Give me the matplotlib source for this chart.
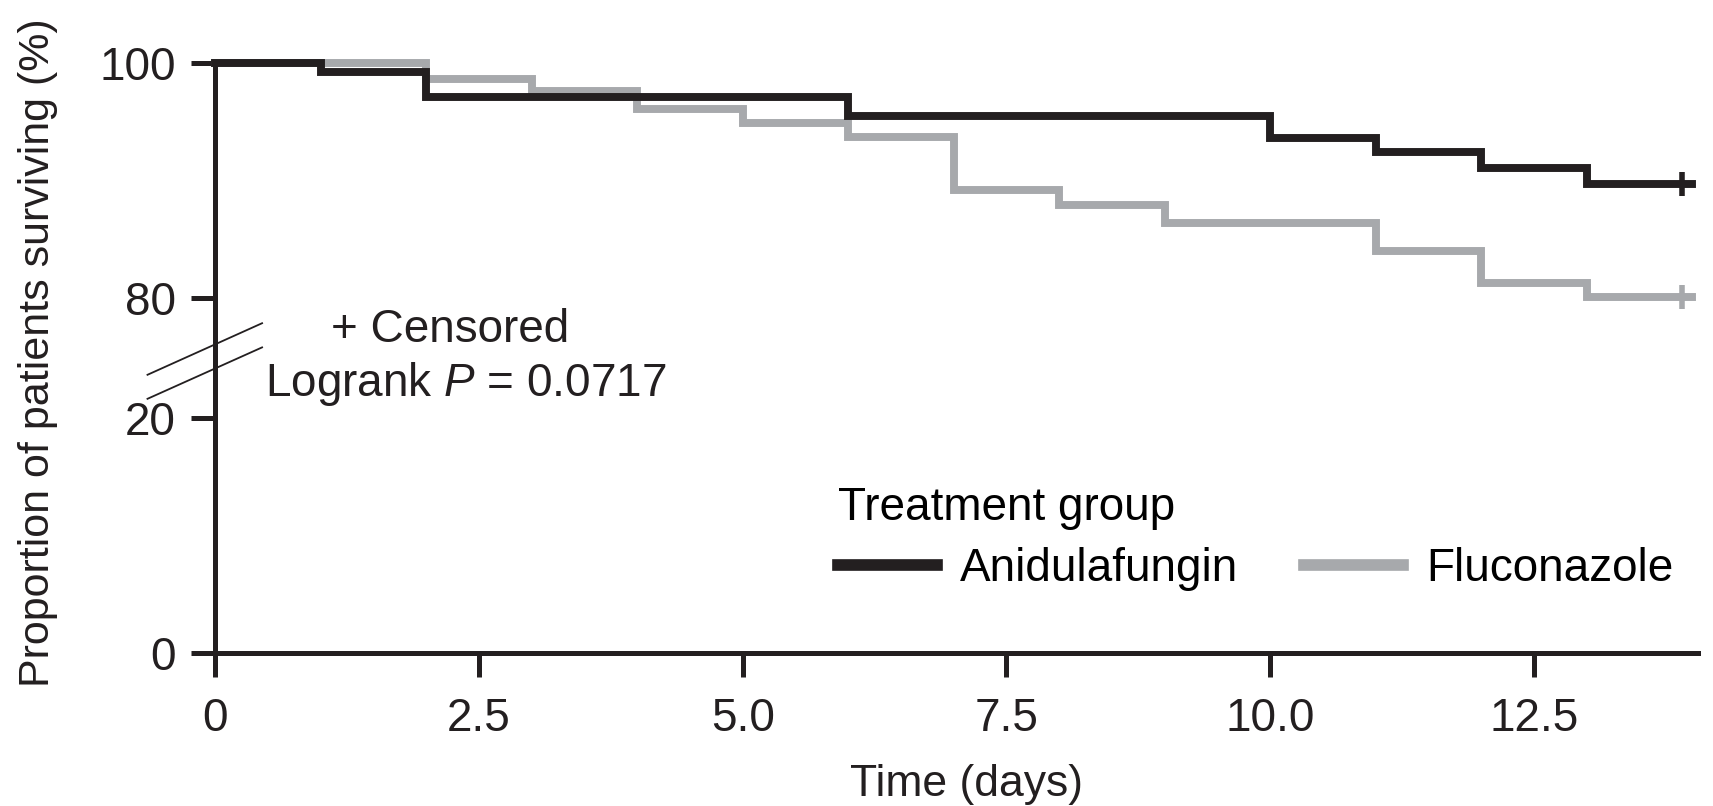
import matplotlib
matplotlib.use("Agg")
from matplotlib import pyplot as plt
from matplotlib.lines import Line2D

plt.rcParams['font.family'] = ['Liberation Sans', 'DejaVu Sans']
plt.rcParams['mathtext.fontset'] = 'custom'
plt.rcParams['mathtext.rm'] = 'Liberation Sans'
plt.rcParams['mathtext.it'] = 'Liberation Sans:italic'

# Kaplan-Meier survival (%), value holds from day i to day i+1
days = [0, 1, 2, 3, 4, 5, 6, 7, 8, 9, 10, 11, 12, 13, 14]
anidulafungin = [100, 99.2, 97.1, 97.1, 97.1, 97.1, 95.5, 95.5, 95.5, 95.5, 93.6, 92.4, 91.1, 89.7, 89.7]
fluconazole = [100, 100, 98.6, 97.6, 96.1, 94.9, 93.7, 89.2, 87.9, 86.4, 86.4, 84.0, 81.3, 80.1, 80.1]
censor_day = 13.9

x_ticks = [0, 2.5, 5.0, 7.5, 10.0, 12.5]
x_tick_labels = ["0", "2.5", "5.0", "7.5", "10.0", "12.5"]
y_ticks = [0, 20, 80, 100]

BLACK = "#231f20"
GREY = "#a7a9ac"
FS = 33

# broken y axis: 20..80 squeezed into a small gap
GAP = 10.23


def yt(v):
    return v if v <= 20 else v - 80 + 20 + GAP


fig = plt.figure(figsize=(17.13, 8.06), dpi=100)
ax = fig.add_axes([0.1255, 0.1898, 0.988 - 0.1255, 0.9218 - 0.1898])

ax.plot(days, [yt(v) for v in fluconazole], drawstyle="steps-post", color=GREY, lw=5.7, clip_on=False,
        solid_joinstyle="miter")
ax.plot(days, [yt(v) for v in anidulafungin], drawstyle="steps-post", color=BLACK, lw=5.7, clip_on=False,
        solid_joinstyle="miter")
ax.plot([censor_day], [yt(fluconazole[-1])], marker="+", ms=17, mew=4, color=GREY, clip_on=False)
ax.plot([censor_day], [yt(anidulafungin[-1])], marker="+", ms=17, mew=4, color=BLACK, clip_on=False)

ax.set_xlim(0, 14)
ax.set_ylim(0, yt(100))
for s in ["top", "right"]:
    ax.spines[s].set_visible(False)
for s in ["left", "bottom"]:
    ax.spines[s].set_linewidth(3.6)
    ax.spines[s].set_color(BLACK)
ax.spines["bottom"].set_bounds(0, 14.05)

ax.set_xticks(x_ticks)
ax.set_xticklabels(x_tick_labels)
ax.set_yticks([yt(v) for v in y_ticks])
ax.set_yticklabels([str(v) for v in y_ticks])
ax.tick_params(axis="both", length=17, width=3.6, color=BLACK, labelsize=FS, labelcolor=BLACK)
ax.tick_params(axis="x", pad=15)
ax.tick_params(axis="y", pad=11)

fig.text(0.022, 0.563, "Proportion of patients surviving (%)", rotation=90, ha="center", va="center",
         fontsize=31, color=BLACK)
fig.text(0.5645, 0.027, "Time (days)", ha="center", va="center", fontsize=32, color=BLACK)

# axis break marks
fig.add_artist(Line2D([0.0861, 0.153], [0.535, 0.599], color=BLACK, lw=1.3))
fig.add_artist(Line2D([0.0861, 0.153], [0.5052, 0.569], color=BLACK, lw=1.3))

fig.text(0.263, 0.591, "+ Censored", ha="center", va="center", fontsize=FS, color=BLACK)
fig.text(0.272, 0.524, r"Logrank $\it{P}$ = 0.0717", ha="center", va="center", fontsize=FS, color=BLACK)

handles = [Line2D([], [], color=BLACK, lw=8.4), Line2D([], [], color=GREY, lw=8.4)]
leg = ax.legend(handles, ["Anidulafungin", "Fluconazole"], title="Treatment group", ncol=2,
                loc="upper left", bbox_to_anchor=(0.476, 0.425), bbox_transform=fig.transFigure,
                frameon=False, fontsize=FS, title_fontsize=FS, handlelength=2.15, handletextpad=0.5,
                columnspacing=1.45, labelspacing=0.36, borderpad=0, alignment="left")

fig.savefig("out.png", dpi=100)
